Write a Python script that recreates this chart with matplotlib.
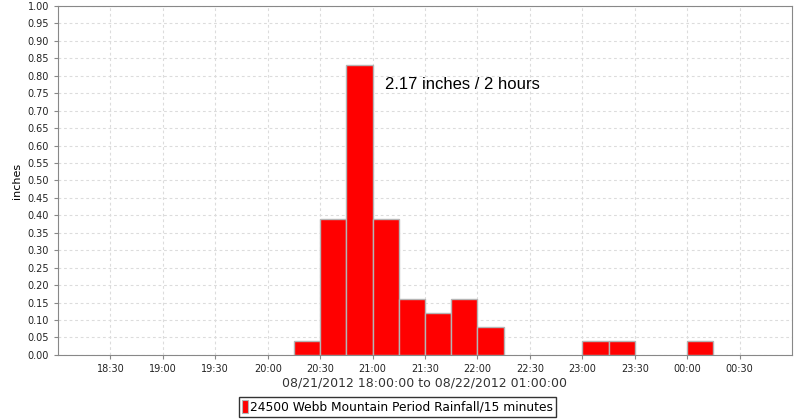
import matplotlib
matplotlib.use("Agg")
import matplotlib.pyplot as plt
import matplotlib.dates as mdates
from matplotlib.patches import Patch
from datetime import datetime

# 15-minute rainfall periods (start times) and amounts in inches
period_starts = ["2012-08-21 20:15", "2012-08-21 20:30", "2012-08-21 20:45",
                 "2012-08-21 21:00", "2012-08-21 21:15", "2012-08-21 21:30",
                 "2012-08-21 21:45", "2012-08-21 22:00", "2012-08-21 23:00",
                 "2012-08-21 23:15", "2012-08-22 00:00"]
rainfall = [0.04, 0.39, 0.83, 0.39, 0.16, 0.12, 0.16, 0.08, 0.04, 0.04, 0.04]

x_start = "2012-08-21 18:00"
x_end = "2012-08-22 01:00"
tick_times = ["2012-08-21 18:30", "2012-08-21 19:00", "2012-08-21 19:30",
              "2012-08-21 20:00", "2012-08-21 20:30", "2012-08-21 21:00",
              "2012-08-21 21:30", "2012-08-21 22:00", "2012-08-21 22:30",
              "2012-08-21 23:00", "2012-08-21 23:30", "2012-08-22 00:00",
              "2012-08-22 00:30"]
annotation = "2.17 inches / 2 hours"
annotation_pos = ("2012-08-21 21:07", 0.775)
x_label = "08/21/2012 18:00:00 to 08/22/2012 01:00:00"
series_name = "24500 Webb Mountain Period Rainfall/15 minutes"

fmt = "%Y-%m-%d %H:%M"
starts = [datetime.strptime(s, fmt) for s in period_starts]
ticks = [datetime.strptime(s, fmt) for s in tick_times]

fig = plt.figure(figsize=(8, 4.2), dpi=100)
ax = fig.add_axes([0.0725, 0.155, 0.9175, 0.8307])

# bar width = 15 minutes in date units
width = mdates.date2num(datetime(2012, 1, 1, 0, 15)) - mdates.date2num(datetime(2012, 1, 1))
ax.bar(starts, rainfall, width=width, align="edge", color="#ff0000",
       edgecolor="#b4b4b4", linewidth=1, zorder=3)

ax.set_xlim(datetime.strptime(x_start, fmt), datetime.strptime(x_end, fmt))
ax.set_ylim(0, 1.0)
ax.set_xticks(ticks)
ax.xaxis.set_major_formatter(mdates.DateFormatter("%H:%M"))
ax.set_yticks([i * 0.05 for i in range(21)])
ax.yaxis.set_major_formatter(plt.FormatStrFormatter("%.2f"))

ax.grid(True, color="#dcdcdc", linestyle=(0, (2.5, 2.5)), linewidth=0.8, zorder=0)
for s in ax.spines.values():
    s.set_color("#888888")
ax.tick_params(axis="both", labelsize=7, colors="#888888", labelcolor="#222222",
               length=3, width=0.8)

ax.set_ylabel("inches", fontsize=8, labelpad=4)
ax.set_xlabel(x_label, fontsize=9, labelpad=2, color="#333333")

ax.text(datetime.strptime(annotation_pos[0], fmt), annotation_pos[1], annotation,
        fontsize=12, family="Liberation Sans", color="black", va="center", zorder=4)

handle = Patch(facecolor="#ff0000", edgecolor="#b4b4b4", linewidth=0.8)
leg = fig.legend([handle], [series_name], loc="center", bbox_to_anchor=(0.497, 0.031),
                 fontsize=8.8, frameon=True, fancybox=False, handlelength=0.45,
                 handleheight=1.2, handletextpad=0.15, borderpad=0.3, borderaxespad=0)
leg.get_frame().set_edgecolor("black")
leg.get_frame().set_linewidth(1)

fig.savefig("out.png", dpi=100)
